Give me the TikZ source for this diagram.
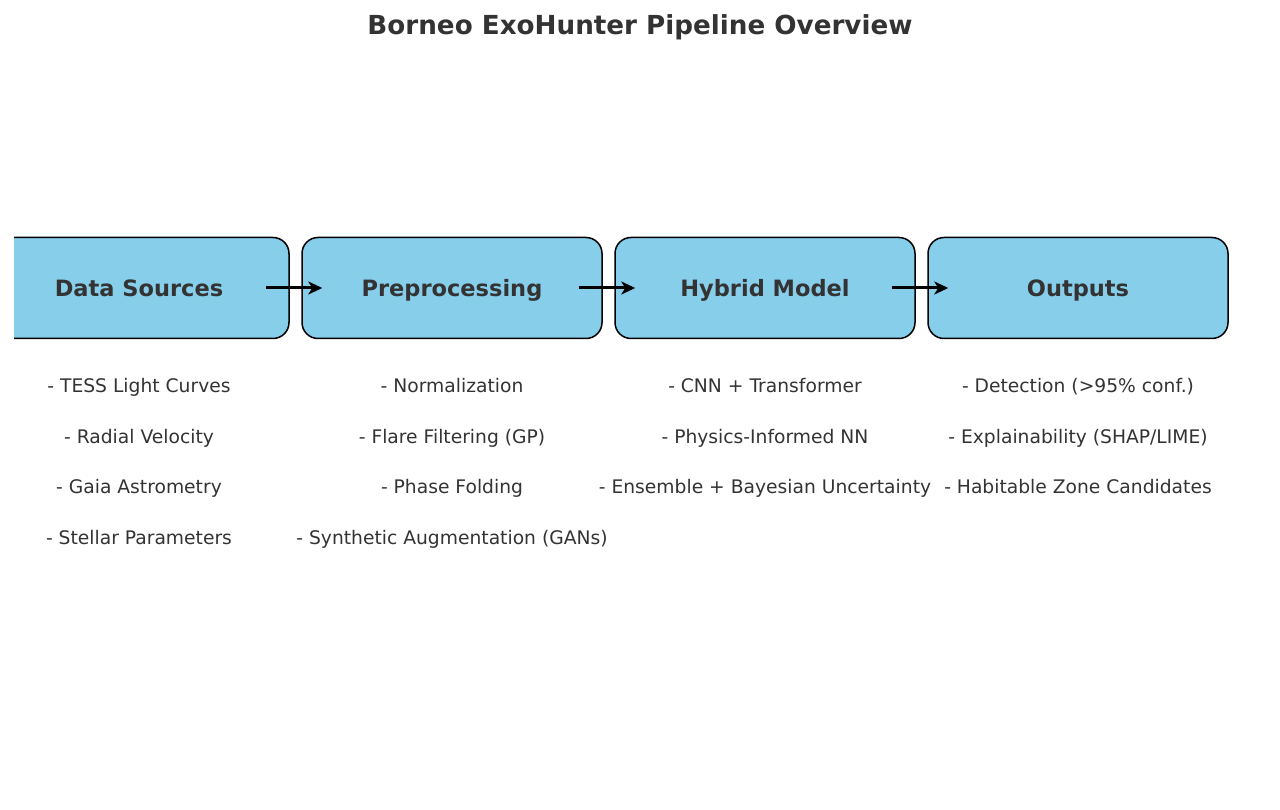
\documentclass[tikz,border=0pt]{standalone}
\usepackage{fontspec}
\setmainfont{DejaVu Sans}
\usetikzlibrary{arrows.meta}
\definecolor{boxblue}{HTML}{87CEEB}
\definecolor{inkgray}{HTML}{333333}
\begin{document}
\begin{tikzpicture}[x=1pt,y=-1pt,
    stage/.style={draw=black,line width=1.5pt,fill=boxblue,rounded corners=16pt,
        minimum width=300pt,minimum height=101pt,text=inkgray,
        text height=18.7pt,text depth=2.3pt,
        font=\fontsize{22.5}{27}\selectfont\bfseries},
    item/.style={text=inkgray,text height=16.7pt,text depth=2.3pt,
        font=\fontsize{18.7}{22}\selectfont},
    flow/.style={line width=3pt,-{Stealth[length=14pt,width=13pt,inset=4pt]}}]
    \useasboundingbox (0,0) rectangle (1280,810);
    \node[text=inkgray,text height=20.7pt,text depth=2.3pt,
        font=\fontsize{26.2}{31}\selectfont\bfseries] (title) at (640,25) {Borneo ExoHunter Pipeline Overview};
    % stages
    \begin{scope}
        \clip (14,0) rectangle (1280,810);
        \node[stage] (src) at (139,288) {Data Sources};
    \end{scope}
    \node[stage] (pre) at (452,288) {Preprocessing};
    \node[stage] (hyb) at (765,288) {Hybrid Model};
    \node[stage] (out) at (1078,288) {Outputs};
    % arrows
    \draw[flow] ([xshift=-24pt]src.east) -- ([xshift=21pt]pre.west);
    \draw[flow] ([xshift=-24pt]pre.east) -- ([xshift=21pt]hyb.west);
    \draw[flow] ([xshift=-24pt]hyb.east) -- ([xshift=21pt]out.west);
    % details
    \node[item] (src1) at (139,385) {- TESS Light Curves};
    \node[item] (src2) at (139,436) {- Radial Velocity};
    \node[item] (src3) at (139,486) {- Gaia Astrometry};
    \node[item] (src4) at (139,537) {- Stellar Parameters};
    \node[item] (pre1) at (452,385) {- Normalization};
    \node[item] (pre2) at (452,436) {- Flare Filtering (GP)};
    \node[item] (pre3) at (452,486) {- Phase Folding};
    \node[item] (pre4) at (452,537) {- Synthetic Augmentation (GANs)};
    \node[item] (hyb1) at (765,385) {- CNN + Transformer};
    \node[item] (hyb2) at (765,436) {- Physics-Informed NN};
    \node[item] (hyb3) at (765,486) {- Ensemble + Bayesian Uncertainty};
    \node[item] (out1) at (1078,385) {- Detection (>95\% conf.)};
    \node[item] (out2) at (1078,436) {- Explainability (SHAP/LIME)};
    \node[item] (out3) at (1078,486) {- Habitable Zone Candidates};
\end{tikzpicture}
\end{document}
